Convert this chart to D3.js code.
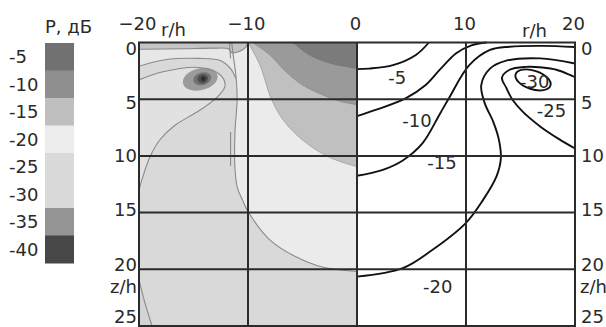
<!DOCTYPE html>
<html>
<head>
<meta charset="utf-8">
<script src="https://cdn.jsdelivr.net/npm/d3@7"></script>
<style>
  html, body { margin: 0; padding: 0; background: #fff; }
  svg { display: block; font-family: "DejaVu Sans", Verdana, sans-serif; }
</style>
</head>
<body>
<div id="chart"></div>
<script>
// legend: levels in dB and their fills (-25 and -30 share a tone)
const legendLevels = [-5, -10, -15, -20, -25, -30, -35, -40];
const legendColors = ['#717171', '#8f8f8f', '#bfbfbf', '#ededed', '#dadada', '#dadada', '#959595', '#474747'];

// axis ticks
const rTicks = [-20, -10, 0, 10, 20];
const zTicks = [0, 5, 10, 15, 20, 25];
const gridR = [-10, 0, 10];
const gridZ = [5, 10, 15, 20];

// right half: contour lines [r/h, z/h]
const c5 = [[6.6, 0], [5.4, 1.1], [3.3, 2.0], [1.1, 2.3], [0, 2.35]];
const c10 = [[0, 6.5], [1.7, 5.95], [4.5, 4.9], [6.3, 3.75], [7.6, 2.4], [9.1, 0.95], [10.5, 0.25], [11.9, 0]];
const c15 = [[0, 11.75], [2.3, 11.25], [4.2, 10.4], [6.0, 8.9], [7.6, 6.3], [8.5, 4.8], [10.3, 2.0], [12.2, 0.66], [14, 0.37], [17, 0.3], [20, 0.4]];
const c20 = [[0, 20.65], [4.2, 19.9], [6.9, 18.3], [10, 15.9], [11.55, 13.9], [12.8, 11.8], [13.2, 10.2], [13.0, 8.5], [12.5, 7.0], [11.7, 5.3], [11.4, 3.75], [12.2, 2.3], [13.7, 1.6], [16.8, 1.4], [20, 1.85]];
const c25 = [[20, 9.35], [18.5, 8.5], [16.8, 7.4], [15.2, 6.1], [14.3, 5.1], [13.7, 4.0], [13.3, 3.1], [14, 2.4], [15.5, 2.15], [17, 2.2], [18.3, 2.4], [20, 3.05]];
const c30 = { r: 16.15, z: 3.3, rr: 1.68, rz: 0.82, tilt: 18 };
const contourLines = [c5, c10, c15, c20, c25];
const contourLabels = [
  { r: 3.7, z: 3.1, t: '-5' },
  { r: 5.5, z: 6.9, t: '-10' },
  { r: 7.8, z: 10.6, t: '-15' },
  { r: 7.4, z: 21.5, t: '-20' },
  { r: 17.85, z: 6.0, t: '-25' },
  { r: 16.3, z: 3.45, t: '-30' }
];

// left half: shaded regions (curve part, then panel corners)
const bandD5 = [[-5.9, 0], [-4.4, 1.1], [-2.6, 1.8], [0, 2.3]];
const bandD10 = [[-9.6, 0], [-8, 1.1], [-6.5, 2.6], [-5, 3.75], [-3.2, 4.6], [-1.5, 5.2], [0, 5.5]];
const bandD15 = [[-10, 0], [-8.9, 2.0], [-7.9, 4.9], [-6.8, 6.8], [-5, 8.6], [-2.6, 10.1], [0, 10.95]];
const bandD20 = [[-11.5, 0], [-11.3, 1.5], [-11.1, 3], [-11.0, 5], [-11.2, 8], [-11.2, 11], [-11.0, 12.7], [-10.5, 13.9], [-10, 14.9], [-8, 17.4], [-5.6, 18.9], [-3.2, 19.8], [0, 20.2]];
const curveA = [[-20, 3.3], [-17.9, 2.6], [-14.5, 2.2], [-12.6, 2.8], [-12.1, 3.8], [-12.6, 4.6], [-13.7, 5.5], [-14.8, 6.2], [-16.7, 7.3], [-18.1, 8.6], [-19.0, 10.1], [-19.6, 11.7], [-20, 13]];
const curveB = [[-20, 2.1], [-17.5, 1.5], [-14.5, 1.4], [-12.5, 1.6], [-11.6, 2.3], [-11.1, 3.2]];
const topStrip = [[-20, 0.6], [-16, 0.55], [-13, 0.5], [-11.8, 0.55], [-11.5, 0.9], [-10.8, 0.8], [-10.2, 0.4], [-10, 0]];
const cornerCurve = [[-20, 20.9], [-19.5, 22.8], [-18.8, 25]];
const spikeTop = [[-11.7, 0], [-11.6, 1.4]];
const spikeMid = [[-11.6, 7.9], [-11.6, 10.9]];
const vortexRings = [
  { r: -14.38, z: 3.24, rr: 1.63, rz: 0.96, color: '#9b9b9b' },
  { r: -14.2, z: 3.2, rr: 0.84, rz: 0.56, color: '#727272' },
  { r: -14.15, z: 3.2, rr: 0.48, rz: 0.4, color: '#4d4d4d' },
  { r: -14.1, z: 3.2, rr: 0.22, rz: 0.2, color: '#2e2e2e' }
];

const W = 606, H = 327;
const FS = 18;
const x = d3.scaleLinear().domain([-20, 20]).range([139, 575]);
const y = d3.scaleLinear().domain([0, 25]).range([42.5, 326]);
const yLab = d3.scaleLinear().domain([0, 25]).range([49, 317]);

const svg = d3.select('#chart').append('svg')
  .attr('width', W).attr('height', H);

// ---- legend
const lg = d3.scaleBand().domain(legendLevels).range([43, 263]);
svg.append('text')
  .attr('x', 45).attr('y', 33)
  .attr('font-size', FS).attr('fill', '#2a2a2a')
  .text('Р, дБ');
svg.selectAll('.sw')
  .data(legendLevels)
  .enter()
  .append('rect')
  .attr('class', 'sw')
  .attr('x', 45).attr('width', 29)
  .attr('y', d => lg(d))
  .attr('height', lg.bandwidth() + 0.5)
  .attr('fill', (d, i) => legendColors[i]);
svg.selectAll('.swl')
  .data(legendLevels)
  .enter()
  .append('text')
  .attr('class', 'swl')
  .attr('x', 9)
  .attr('y', d => lg(d) + lg.bandwidth() / 2)
  .attr('dy', '0.36em')
  .attr('font-size', FS).attr('fill', '#2a2a2a')
  .text(d => d);

// ---- left (shaded) half
const line = d3.line().x(d => x(d[0])).y(d => y(d[1])).curve(d3.curveCatmullRom.alpha(0.5));
const region = (pts, corners) =>
  line(pts) + corners.map(p => `L${x(p[0])},${y(p[1])}`).join('') + 'Z';

svg.append('clipPath').attr('id', 'clipL')
  .append('rect')
  .attr('x', x(-20)).attr('y', y(0))
  .attr('width', x(0) - x(-20)).attr('height', y(25) - y(0));

const gl = svg.append('g').attr('clip-path', 'url(#clipL)');
gl.append('rect')
  .attr('x', x(-20)).attr('y', y(0))
  .attr('width', x(0) - x(-20)).attr('height', y(25) - y(0))
  .attr('fill', '#d9d9d9');
gl.append('path').attr('d', region(cornerCurve, [[-20, 25]])).attr('fill', '#d4d4d4');
gl.append('path').attr('d', region(curveA, [])).attr('fill', '#e1e1e1');
gl.append('path').attr('d', region(curveB, [[-11.5, 0.6], [-20, 0.6]])).attr('fill', '#e7e7e7');
gl.append('path').attr('d', region(bandD20, [[0, 0]])).attr('fill', '#ebebeb');
gl.append('path').attr('d', region(bandD15, [[0, 0]])).attr('fill', '#c0c0c0');
gl.append('path').attr('d', region(bandD10, [[0, 0]])).attr('fill', '#9a9a9a');
gl.append('path').attr('d', region(bandD5, [[0, 0]])).attr('fill', '#7b7b7b');
gl.append('path').attr('d', region(topStrip, [[-20, 0]])).attr('fill', '#c4c4c4');

gl.selectAll('.ring')
  .data(vortexRings)
  .enter()
  .append('ellipse')
  .attr('class', 'ring')
  .attr('cx', d => x(d.r)).attr('cy', d => y(d.z))
  .attr('rx', d => x(d.r + d.rr) - x(d.r))
  .attr('ry', d => y(d.z + d.rz) - y(d.z))
  .attr('transform', d => `rotate(-14 ${x(d.r)} ${y(d.z)})`)
  .attr('fill', d => d.color);

// thin contour traces in the shaded half
const open = d3.line().x(d => x(d[0])).y(d => y(d[1])).curve(d3.curveCatmullRom.alpha(0.5));
gl.selectAll('.trace')
  .data([curveA, curveB, bandD20, cornerCurve, topStrip, spikeTop, spikeMid])
  .enter()
  .append('path')
  .attr('class', 'trace')
  .attr('d', open)
  .attr('fill', 'none')
  .attr('stroke', '#8a8a8a')
  .attr('stroke-width', 1.1);
gl.selectAll('.edge')
  .data([bandD5, bandD10, bandD15])
  .enter()
  .append('path')
  .attr('class', 'edge')
  .attr('d', open)
  .attr('fill', 'none')
  .attr('stroke', '#777')
  .attr('stroke-opacity', 0.45)
  .attr('stroke-width', 1);

// ---- right (line) half
const gr = svg.append('g');
gr.selectAll('.cl')
  .data(contourLines)
  .enter()
  .append('path')
  .attr('class', 'cl')
  .attr('d', open)
  .attr('fill', 'none')
  .attr('stroke', '#111')
  .attr('stroke-width', 1.9);
gr.append('ellipse')
  .attr('cx', x(c30.r)).attr('cy', y(c30.z))
  .attr('rx', x(c30.r + c30.rr) - x(c30.r))
  .attr('ry', y(c30.z + c30.rz) - y(c30.z))
  .attr('transform', `rotate(${c30.tilt} ${x(c30.r)} ${y(c30.z)})`)
  .attr('fill', 'none')
  .attr('stroke', '#111')
  .attr('stroke-width', 1.9);
gr.selectAll('.clab')
  .data(contourLabels)
  .enter()
  .append('text')
  .attr('class', 'clab')
  .attr('x', d => x(d.r)).attr('y', d => y(d.z))
  .attr('dy', '0.36em')
  .attr('text-anchor', 'middle')
  .attr('font-size', FS).attr('fill', '#2a2a2a')
  .text(d => d.t);

// ---- grid and frame
const grid = svg.append('g').attr('stroke', '#2b2b2b').attr('stroke-width', 2);
grid.selectAll('.gz')
  .data(gridZ)
  .enter()
  .append('line')
  .attr('x1', x(-20)).attr('x2', x(20))
  .attr('y1', d => y(d)).attr('y2', d => y(d));
grid.selectAll('.gr')
  .data(gridR)
  .enter()
  .append('line')
  .attr('x1', d => x(d)).attr('x2', d => x(d))
  .attr('y1', y(0)).attr('y2', y(25));
grid.append('rect')
  .attr('x', x(-20)).attr('y', y(0))
  .attr('width', x(20) - x(-20)).attr('height', y(25) - y(0))
  .attr('fill', 'none');

// ---- axes (labels only)
const topAxis = svg.append('g')
  .attr('transform', 'translate(-2,30)')
  .call(d3.axisTop(x).tickValues(rTicks).tickSize(0).tickPadding(0));
const leftAxis = svg.append('g')
  .attr('transform', 'translate(137,0)')
  .call(d3.axisLeft(yLab).tickValues(zTicks).tickSize(0).tickPadding(0));
const rightAxis = svg.append('g')
  .attr('transform', 'translate(581,0)')
  .call(d3.axisRight(yLab).tickValues(zTicks).tickSize(0).tickPadding(0));
[topAxis, leftAxis, rightAxis].forEach(a => {
  a.select('.domain').remove();
  a.selectAll('text')
    .attr('font-size', FS)
    .attr('font-family', '"DejaVu Sans", Verdana, sans-serif')
    .attr('fill', '#2a2a2a');
});
leftAxis.selectAll('.tick').filter(d => d === 20).attr('transform', `translate(0,${yLab(20) + 2})`);
rightAxis.selectAll('.tick').filter(d => d === 20).attr('transform', `translate(0,${yLab(20) + 2})`);

const axisNames = [
  { x: 161, y: 36, anchor: 'start', t: 'r/h' },
  { x: 522, y: 36.5, anchor: 'start', t: 'r/h' },
  { x: 137, y: 293, anchor: 'end', t: 'z/h' },
  { x: 580, y: 293, anchor: 'start', t: 'z/h' }
];
svg.selectAll('.an')
  .data(axisNames)
  .enter()
  .append('text')
  .attr('class', 'an')
  .attr('x', d => d.x).attr('y', d => d.y)
  .attr('text-anchor', d => d.anchor)
  .attr('font-size', FS).attr('fill', '#2a2a2a')
  .text(d => d.t);
</script>
</body>
</html>
